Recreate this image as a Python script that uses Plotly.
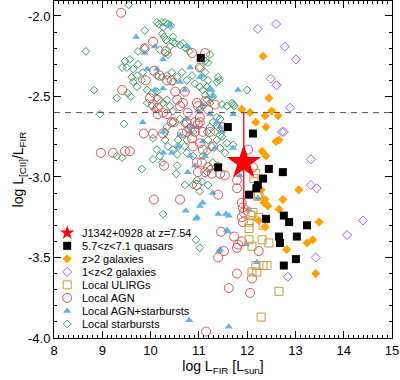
import plotly.graph_objects as go

# ---------------- data ----------------
# Local starbursts
sb_x = [9.55, 8.66, 8.83, 8.95, 9.30, 9.45, 9.30, 9.41, 9.88,
        10.13, 10.17, 10.24, 10.30, 10.36, 10.42, 10.26, 10.24, 10.28, 10.32,
        10.46, 10.46, 10.51, 10.40, 10.61, 10.67, 10.73, 10.80, 9.74, 9.88,
        10.19, 10.30, 10.36, 9.47, 9.57, 9.51, 9.41, 9.64, 9.74, 9.84, 9.72, 9.61, 9.82,
        10.13, 10.24, 10.34, 10.44, 10.46, 10.55, 10.65, 10.75, 10.86, 10.92,
        9.93, 10.03, 10.13, 9.53, 9.59, 10.13, 10.26, 10.34, 10.40, 10.46,
        9.93, 10.03, 10.09, 9.64, 9.72,
        10.46, 10.61, 10.71, 10.82, 10.88, 10.75, 10.57, 10.34, 10.30, 10.30, 10.36, 10.46, 10.75, 10.88,
        10.13, 10.19, 10.24, 9.82, 10.71, 10.88, 10.96,
        11.23, 11.13, 11.19, 11.02, 11.13, 11.08, 11.40, 11.42, 11.37,
        11.19, 11.17, 11.23, 11.29, 11.02, 11.08, 11.13, 11.69, 11.71, 11.73,
        11.48, 11.58, 11.17, 11.23, 11.08, 11.02, 11.37, 11.29, 11.44,
        11.23, 11.40, 11.17, 11.33, 11.44, 11.48, 11.37, 11.19, 11.27, 11.17, 11.08,
        11.58, 11.71, 11.54, 11.44, 11.29, 11.40, 11.23, 11.17, 11.06, 11.19,
        10.26, 10.94, 11.02, 11.02, 10.05, 10.55, 10.53, 10.71, 10.05, 10.55, 12.00, 10.57]
sb_y = [-1.93, -2.22, -2.46, -2.61, -2.51, -2.67, -2.87, -2.88, -2.09,
        -2.04, -2.05, -2.04, -2.04, -2.05, -2.06, -2.07, -2.11, -2.13, -2.15,
        -2.13, -2.16, -2.17, -2.19, -2.18, -2.17, -2.20, -2.22, -2.22, -2.20,
        -2.21, -2.23, -2.24, -2.28, -2.27, -2.32, -2.32, -2.33, -2.30, -2.35, -2.37, -2.38, -2.40,
        -2.37, -2.38, -2.37, -2.35, -2.41, -2.38, -2.35, -2.40, -2.37, -2.42,
        -2.46, -2.48, -2.47, -2.48, -2.50, -2.51, -2.54, -2.52, -2.56, -2.59,
        -2.54, -2.56, -2.58, -2.41, -2.44,
        -2.66, -2.64, -2.67, -2.69, -2.72, -2.77, -2.77, -2.69, -2.72, -2.77, -2.81, -2.83, -2.85, -2.87,
        -2.83, -2.87, -2.91, -2.95, -3.05, -3.05, -3.02,
        -2.24, -2.28, -2.29, -2.32, -2.35, -2.38, -2.38, -2.40, -2.41,
        -2.40, -2.44, -2.48, -2.50, -2.44, -2.46, -2.49, -2.54, -2.55, -2.56,
        -2.55, -2.56, -2.52, -2.54, -2.56, -2.58, -2.63, -2.66, -2.64,
        -2.69, -2.69, -2.72, -2.72, -2.74, -2.75, -2.77, -2.77, -2.81, -2.84, -2.87,
        -2.79, -2.80, -2.85, -2.82, -2.91, -2.93, -2.95, -2.97, -3.03, -3.05,
        -3.23, -3.39, -3.44, -3.09, -2.89, -2.93, -2.98, -2.81, -2.76, -2.86, -2.46, -2.81]

# Local AGN+starbursts
agnsb_x = [10.40, 9.70, 9.88, 10.09, 10.26, 9.93, 10.13, 10.26, 10.71, 10.77, 10.61, 10.09,
           9.84, 10.26, 10.61, 10.26, 10.44, 10.75, 10.86, 10.96, 10.57, 10.82, 10.92, 10.77,
           11.06, 11.23, 11.29, 11.81, 11.71, 11.23, 11.33, 11.71, 11.13, 11.85,
           10.98, 11.08, 11.37, 11.44, 11.48, 10.82, 11.08, 10.82, 11.02, 11.27,
           10.73, 10.94, 10.80, 11.29, 11.08, 11.02, 11.56, 11.62, 11.40, 11.58, 11.60,
           11.42, 11.44, 11.98, 12.04, 12.22, 12.20, 11.62, 10.96]
agnsb_y = [-2.06, -2.13, -2.23, -2.19, -2.27, -2.33, -2.33, -2.45, -2.46, -2.19, -2.41, -2.46,
           -2.66, -2.72, -2.74, -2.85, -2.85, -2.64, -2.69, -2.69, -2.81, -2.87, -2.93, -2.97,
           -2.37, -2.45, -2.50, -2.46, -2.61, -2.61, -2.82, -2.82, -2.87, -2.99,
           -2.59, -2.55, -2.66, -2.69, -2.72, -2.72, -2.78, -2.32, -2.38, -2.46,
           -3.21, -3.26, -3.89, -3.10, -3.16, -3.18, -3.23, -3.24, -3.23, -3.33, -3.34,
           -3.46, -3.45, -3.42, -3.20, -3.13, -3.53, -3.93, -3.25]

# Local AGN
agn_x = [9.39, 10.05, 9.88, 10.32, 10.86, 10.07, 10.19, 9.90, 10.34, 10.44, 9.41, 9.99, 10.15,
         10.51, 10.55, 10.67, 10.61, 10.15, 10.26, 10.34, 10.96, 10.98, 10.77, 10.44, 10.48,
         9.86, 10.05, 10.26, 10.65, 10.75, 10.82, 10.92, 10.98, 8.97, 9.22, 9.47, 9.57,
         10.28, 10.88, 10.96, 10.98, 10.96, 10.71, 10.05, 10.15, 10.75,
         11.13, 11.02, 11.13, 11.19, 11.02, 11.50, 11.08, 11.02, 11.29, 11.08, 12.02, 12.12,
         11.06, 11.13, 11.27, 11.44, 11.54, 11.79, 11.02, 10.92, 10.86, 11.23, 11.19, 11.79, 11.33,
         10.07, 10.61, 11.40, 11.89, 11.91, 11.93, 11.89, 12.24, 11.46, 11.40, 11.73, 11.81,
         11.79, 11.89, 11.52, 11.62, 12.06, 12.10, 12.24, 11.79, 11.15, 11.91]
agn_y = [-1.98, -2.16, -2.20, -2.22, -2.23, -2.34, -2.37, -2.40, -2.40, -2.40, -2.46, -2.51, -2.52,
         -2.47, -2.52, -2.54, -2.56, -2.57, -2.60, -2.61, -2.54, -2.56, -2.60, -2.66, -2.66,
         -2.73, -2.73, -2.73, -2.73, -2.72, -2.70, -2.66, -2.67, -2.85, -2.85, -2.84, -2.84,
         -2.93, -2.81, -2.91, -2.97, -3.05, -2.47, -2.55, -2.61, -2.66,
         -2.23, -2.32, -2.53, -2.58, -2.63, -2.69, -2.72, -2.79, -2.81, -2.83, -2.83, -2.94,
         -2.91, -2.97, -2.98, -2.98, -2.99, -3.07, -2.66, -2.72, -2.76, -2.72, -2.94, -3.02, -2.55,
         -3.14, -3.14, -3.11, -3.16, -3.19, -3.22, -3.25, -3.11, -3.34, -3.50, -3.37, -3.42,
         -3.44, -3.40, -3.46, -3.69, -3.72, -3.63, -3.46, -3.60, -3.96, -3.28]

# Local ULIRGs
ulirg_x = [12.12, 12.08, 12.04, 12.04, 12.04, 12.10, 12.31, 12.45, 12.33, 12.24, 12.22,
           12.18, 12.10, 12.20, 12.33, 12.41, 12.66, 12.29, 12.18, 12.14]
ulirg_y = [-3.22, -3.24, -3.28, -3.32, -3.39, -3.43, -3.39, -3.41, -3.30, -3.25, -3.12,
           -3.55, -3.59, -3.59, -3.55, -3.55, -3.71, -3.87, -2.98, -3.01]

# 1<z<2 galaxies
midz_x = [12.60, 12.22, 12.78, 13.01, 12.49, 12.61, 12.89, 12.72, 12.76, 13.32, 13.32, 13.44,
          14.40, 14.07, 13.42, 12.84]
midz_y = [-2.05, -2.08, -2.19, -2.27, -2.39, -2.43, -2.57, -2.72, -2.72, -2.89, -3.05, -3.07,
          -3.27, -3.36, -3.50, -3.62]

# z>2 galaxies
hiz_x = [12.33, 12.45, 11.89, 12.06, 12.51, 12.37, 12.64, 12.18, 12.39, 12.60, 12.66, 12.31,
         12.39, 13.07, 12.29, 12.74, 12.37, 12.35, 12.43, 12.66, 12.24, 12.37, 13.49, 13.24,
         13.36, 12.82, 13.42]
hiz_y = [-2.25, -2.51, -2.58, -2.60, -2.59, -2.62, -2.62, -2.66, -2.69, -2.78, -2.77, -2.84,
         -2.87, -3.08, -3.08, -3.14, -3.14, -3.16, -3.18, -3.20, -3.27, -3.31, -3.28, -3.41,
         -3.39, -3.45, -3.60]

# 5.7<z<7.1 quasars
qso_x = [11.04, 11.60, 12.12, 11.40, 12.45, 12.74, 12.33, 12.22, 12.19, 12.04, 12.39, 12.76,
         12.87, 13.24, 12.66, 12.68, 13.03, 13.01, 12.76]
qso_y = [-2.26, -2.69, -2.73, -2.94, -2.95, -2.97, -3.01, -3.05, -3.07, -3.11, -3.26, -3.24,
         -3.28, -3.30, -3.37, -3.41, -3.37, -3.51, -3.55]

# J1342+0928
j_x = [11.93]
j_y = [-2.91]
j_err = [0.31]

ref_level = -2.6

legend_names = ["J1342+0928 at z=7.54", "5.7<z<7.1 quasars", "z>2 galaxies", "1<z<2 galaxies",
                "Local ULIRGs", "Local AGN", "Local AGN+starbursts", "Local starbursts"]

x_ticks = [8, 9, 10, 11, 12, 13, 14, 15]
y_ticks = [-4.0, -3.5, -3.0, -2.5, -2.0]

# ---------------- styles ----------------
C_SB = "#3c9a62"
C_AGNSB = "#5cb6e4"
C_AGN = "#d8565a"
C_ULIRG = "#c9993d"
C_MIDZ = "#a063ea"
C_HIZ = "#ffa200"
C_QSO = "#000000"
C_J = "#ff0000"

styles = [
    dict(symbol="star", size=11, color=C_J, line=dict(width=0)),
    dict(symbol="square", size=8, color=C_QSO, line=dict(width=0)),
    dict(symbol="diamond", size=7, color=C_HIZ, line=dict(width=0)),
    dict(symbol="diamond-open", size=7, color=C_MIDZ, line=dict(width=1, color=C_MIDZ)),
    dict(symbol="square-open", size=8, color=C_ULIRG, line=dict(width=1, color=C_ULIRG)),
    dict(symbol="circle-open", size=9, color=C_AGN, line=dict(width=1, color=C_AGN)),
    dict(symbol="triangle-up", size=7, color=C_AGNSB, line=dict(width=0)),
    dict(symbol="diamond-open", size=6, color=C_SB, line=dict(width=1, color=C_SB)),
]

fig = go.Figure()

fig.add_trace(go.Scatter(x=sb_x, y=sb_y, mode="markers", marker=styles[7], showlegend=False))
fig.add_trace(go.Scatter(x=agnsb_x, y=agnsb_y, mode="markers", marker=styles[6], showlegend=False))
fig.add_trace(go.Scatter(x=agn_x, y=agn_y, mode="markers", marker=styles[5], showlegend=False))
fig.add_trace(go.Scatter(x=ulirg_x, y=ulirg_y, mode="markers", marker=styles[4], showlegend=False))
fig.add_trace(go.Scatter(x=midz_x, y=midz_y, mode="markers", marker=styles[3], showlegend=False))
fig.add_trace(go.Scatter(x=hiz_x, y=hiz_y, mode="markers", marker=styles[2], showlegend=False))
fig.add_trace(go.Scatter(x=qso_x, y=qso_y, mode="markers", marker=styles[1], showlegend=False))
fig.add_trace(go.Scatter(x=j_x, y=j_y, mode="markers",
                         marker=dict(symbol="star", size=26, color=C_J, line=dict(width=0)),
                         error_y=dict(type="data", array=j_err, color=C_J, thickness=1.3, width=0),
                         showlegend=False))

fig.add_hline(y=ref_level, line=dict(color="#555555", width=1, dash="6px,5px"))

# custom compact legend on an overlay axis (0..1)
row0, step = 0.312, 0.0386
for i, (name, st) in enumerate(zip(legend_names, styles)):
    yy = row0 - i * step
    fig.add_trace(go.Scatter(x=[0.039], y=[yy], mode="markers", marker=st,
                             xaxis="x2", yaxis="y2", showlegend=False, hoverinfo="skip"))
    fig.add_annotation(x=0.077, y=yy, xref="x2", yref="y2", text=name, showarrow=False,
                       xanchor="left", yanchor="middle",
                       font=dict(size=11, color="black", family="Liberation Sans, Arial"))

axis_common = dict(showgrid=False, zeroline=False, showline=True, linecolor="black", linewidth=1,
                   mirror="ticks", ticks="inside", tickcolor="black", ticklen=7,
                   tickfont=dict(size=13, color="black", family="Liberation Sans, Arial"))

fig.update_layout(
    width=400, height=380,
    margin=dict(l=54, r=8, t=1, b=42),
    paper_bgcolor="white", plot_bgcolor="white",
    font=dict(family="Liberation Sans, Arial", color="black"),
    xaxis=dict(range=[8, 15], tickvals=x_ticks, ticktext=[str(v) for v in x_ticks],
               minor=dict(ticks="inside", dtick=0.1, ticklen=3, tickcolor="black"),
               title=dict(text="log L<sub>FIR</sub> [L<sub>sun</sub>]", font=dict(size=14), standoff=4),
               **axis_common),
    yaxis=dict(range=[-4.0, -1.907], tickvals=y_ticks,
               ticktext=[f"{v:.1f}" for v in y_ticks],
               minor=dict(ticks="inside", dtick=0.1, ticklen=3, tickcolor="black"),
               title=dict(text="log L<sub>[CII]</sub>/L<sub>FIR</sub>", font=dict(size=14), standoff=0),
               **axis_common),
    xaxis2=dict(overlaying="x", range=[0, 1], visible=False),
    yaxis2=dict(overlaying="y", range=[0, 1], visible=False),
)

fig.write_html("out.html", config={"displayModeBar": False},
               post_script="document.body.style.margin='0px';document.body.style.padding='0px';")
